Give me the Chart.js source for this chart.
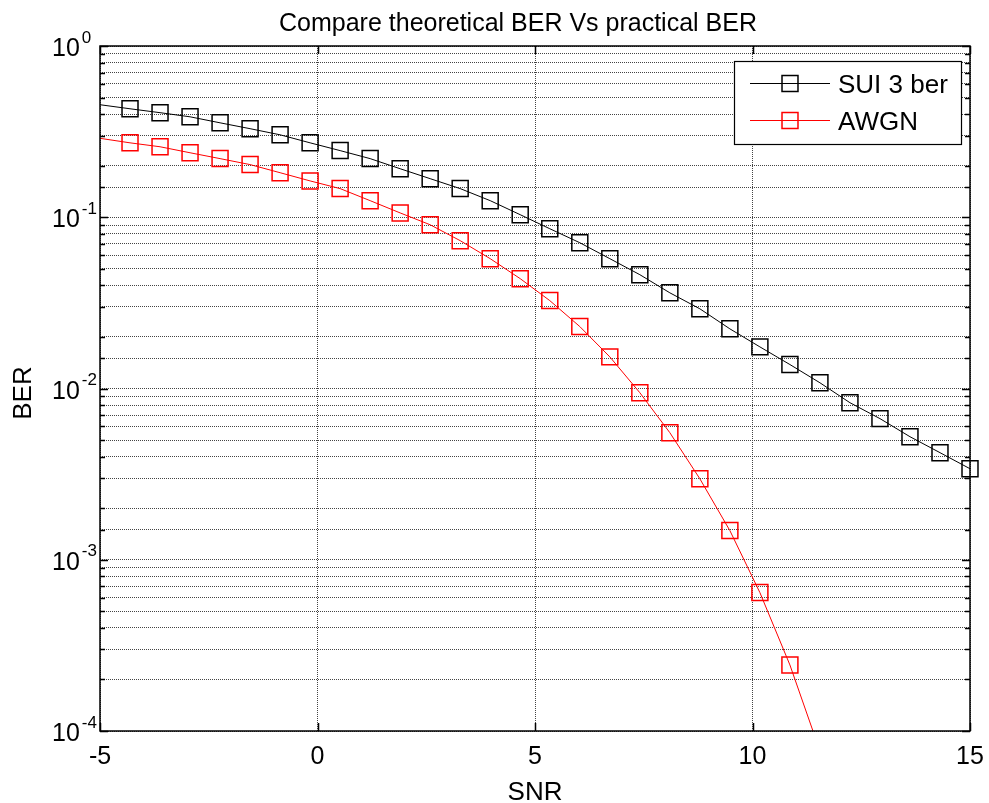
<!DOCTYPE html>
<html>
<head>
<meta charset="utf-8">
<script src="https://cdn.jsdelivr.net/npm/chart.js@4/dist/chart.umd.min.js"></script>
<style>
  html, body { margin: 0; padding: 0; background: #fff; }
  #wrap { width: 989px; height: 803px; }
</style>
</head>
<body>
<div id="wrap"><canvas id="c" width="989" height="803"></canvas></div>
<script>
// ---- data ----
const titleText = 'Compare theoretical BER Vs practical BER';
const xLabel = 'SNR';
const yLabel = 'BER';
const seriesNames = ['SUI 3 ber', 'AWGN'];
const xTicks = [-5, 0, 5, 10, 15];
const yDecades = [0, -1, -2, -3, -4];

const snr = [-5, -4.31, -3.62, -2.93, -2.24, -1.55, -0.86, -0.17, 0.52, 1.21,
             1.90, 2.59, 3.28, 3.97, 4.66, 5.34, 6.03, 6.72, 7.41, 8.10,
             8.79, 9.48, 10.17, 10.86, 11.55, 12.24, 12.93, 13.62, 14.31, 15];

const sui3Ber = [0.454, 0.430, 0.408, 0.386, 0.356, 0.329, 0.303, 0.272, 0.245, 0.220,
                 0.192, 0.168, 0.147, 0.125, 0.1035, 0.0857, 0.0710, 0.0573, 0.0462, 0.0362,
                 0.0292, 0.0223, 0.0175, 0.0138, 0.0108, 0.00826, 0.00667, 0.00523, 0.00422, 0.00340];

const awgnBer = [0.289, 0.272, 0.258, 0.238, 0.220, 0.203, 0.182, 0.163, 0.147, 0.125,
                 0.106, 0.0904, 0.0730, 0.0573, 0.0438, 0.0326, 0.0230, 0.0153, 0.00945, 0.00552,
                 0.00297, 0.00148, 0.000643, 0.000243, 0.0000765];

// ---- styling ----
const FONT = '"Liberation Sans", Arial, Helvetica, sans-serif';
const MARK_R = 11.3;

function toPoints(xs, ys) { return ys.map((v, i) => ({ x: xs[i], y: v })); }
function radii(n) { return Array.from({ length: n }, (_, i) => (i === 0 ? 0 : MARK_R)); }

const awgnRadii = radii(awgnBer.length);
awgnRadii[awgnRadii.length - 1] = 0;

function drawMarker(ctx, x, y, color) {
  const s = MARK_R * Math.SQRT1_2;
  ctx.save();
  ctx.strokeStyle = color;
  ctx.lineWidth = 1.5;
  ctx.strokeRect(x - s, y - s, 2 * s, 2 * s);
  ctx.restore();
}

const overlay = {
  id: 'overlay',
  afterDatasetsDraw(chart) {
    const { ctx, chartArea: a, scales: { x, y } } = chart;
    ctx.save();
    // axes box
    ctx.strokeStyle = '#000';
    ctx.lineWidth = 1.5;
    ctx.strokeRect(a.left, a.top, a.right - a.left, a.bottom - a.top);
    // y ticks (inward, left and right)
    ctx.lineWidth = 1.5;
    y.ticks.forEach(t => {
      const py = Math.round(y.getPixelForValue(t.value)) + 0.5;
      const lg = Math.log10(t.value);
      const major = Math.abs(lg - Math.round(lg)) < 1e-6;
      const len = major ? 8 : 5;
      ctx.beginPath();
      ctx.moveTo(a.left, py); ctx.lineTo(a.left + len, py);
      ctx.moveTo(a.right, py); ctx.lineTo(a.right - len, py);
      ctx.stroke();
    });
    // x ticks (inward, top and bottom)
    xTicks.forEach(v => {
      const px = Math.round(x.getPixelForValue(v)) + 0.5;
      ctx.beginPath();
      ctx.moveTo(px, a.bottom); ctx.lineTo(px, a.bottom - 8);
      ctx.moveTo(px, a.top); ctx.lineTo(px, a.top + 8);
      ctx.stroke();
    });

    ctx.fillStyle = '#000';
    // x tick labels
    ctx.font = '25px ' + FONT;
    ctx.textAlign = 'center';
    ctx.textBaseline = 'alphabetic';
    xTicks.forEach(v => {
      ctx.fillText(String(v), x.getPixelForValue(v), 764);
    });
    // y tick labels 10^n
    yDecades.forEach(e => {
      const py = y.getPixelForValue(Math.pow(10, e));
      ctx.textAlign = 'left';
      ctx.font = '25px ' + FONT;
      ctx.fillText('10', 52, py + 10);
      const w = ctx.measureText('10').width;
      ctx.font = '17px ' + FONT;
      ctx.fillText(String(e), 52 + w + 2, py - 3.5);
    });
    // axis titles
    ctx.font = '26px ' + FONT;
    ctx.textAlign = 'center';
    ctx.fillText(xLabel, (a.left + a.right) / 2, 800);
    ctx.save();
    ctx.translate(31, 393);
    ctx.rotate(-Math.PI / 2);
    ctx.fillText(yLabel, 0, 0);
    ctx.restore();
    // title
    ctx.font = '25px ' + FONT;
    ctx.fillText(titleText, 518, 30.5);

    // legend
    const lx = 734, ly = 61, lw = 227, lh = 83;
    ctx.fillStyle = '#fff';
    ctx.fillRect(lx, ly, lw, lh);
    ctx.strokeStyle = '#000';
    ctx.lineWidth = 1.2;
    ctx.strokeRect(lx + 0.5, ly + 0.5, lw, lh);
    const rows = [
      { name: seriesNames[0], color: '#000000', y: 83 },
      { name: seriesNames[1], color: '#ff0000', y: 120 }
    ];
    rows.forEach(r => {
      ctx.strokeStyle = r.color;
      ctx.lineWidth = 1;
      ctx.beginPath();
      ctx.moveTo(750, r.y + 0.5); ctx.lineTo(830, r.y + 0.5);
      ctx.stroke();
      drawMarker(ctx, 790, r.y + 0.5, r.color);
      ctx.fillStyle = '#000';
      ctx.font = '26px ' + FONT;
      ctx.textAlign = 'left';
      ctx.fillText(r.name, 838, r.y + 9.5);
    });
    ctx.restore();
  }
};

new Chart(document.getElementById('c'), {
  type: 'line',
  data: {
    datasets: [
      {
        label: seriesNames[0],
        data: toPoints(snr, sui3Ber),
        borderColor: '#000000',
        borderWidth: 1,
        pointStyle: 'rect',
        pointRadius: radii(sui3Ber.length),
        pointBorderColor: '#000000',
        pointBorderWidth: 1.5,
        pointBackgroundColor: 'rgba(0,0,0,0)',
        tension: 0,
        clip: false
      },
      {
        label: seriesNames[1],
        data: toPoints(snr, awgnBer),
        borderColor: '#ff0000',
        borderWidth: 1,
        pointStyle: 'rect',
        pointRadius: awgnRadii,
        pointBorderColor: '#ff0000',
        pointBorderWidth: 1.5,
        pointBackgroundColor: 'rgba(0,0,0,0)',
        tension: 0
      }
    ]
  },
  options: {
    responsive: false,
    animation: false,
    devicePixelRatio: 1,
    events: [],
    layout: { padding: { left: 100, right: 19, top: 46, bottom: 72 } },
    plugins: { legend: { display: false }, title: { display: false }, tooltip: { enabled: false } },
    scales: {
      x: {
        type: 'linear',
        min: -5, max: 15,
        ticks: { display: false, stepSize: 5 },
        grid: { drawTicks: false, color: '#444', lineWidth: 1 },
        border: { display: false, dash: [1, 1] }
      },
      y: {
        type: 'logarithmic',
        min: 1e-4, max: 1,
        ticks: { display: false, autoSkip: false },
        grid: { drawTicks: false, color: '#444', lineWidth: 1 },
        border: { display: false, dash: [1, 1] }
      }
    }
  },
  plugins: [overlay]
});
</script>
</body>
</html>
